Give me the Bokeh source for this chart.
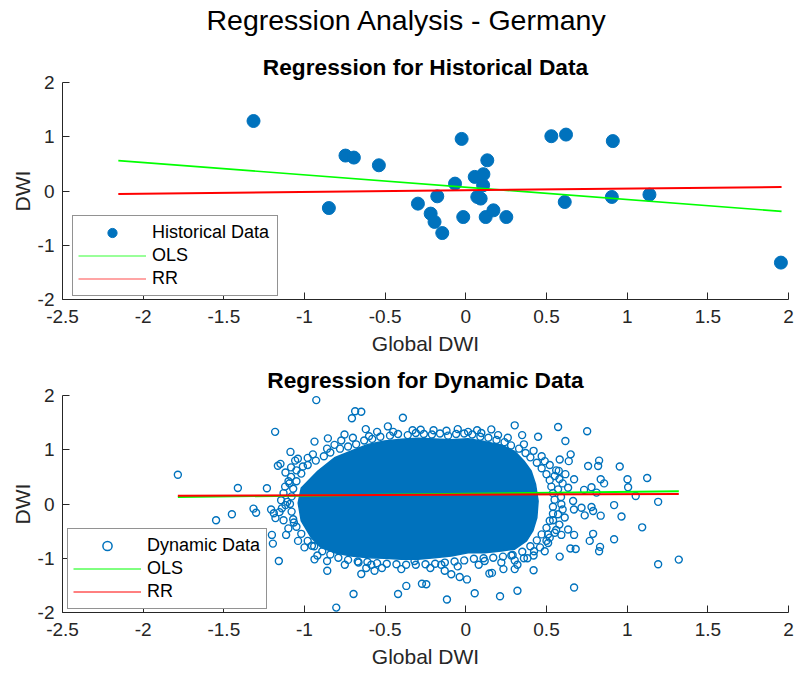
from bokeh.plotting import figure
from bokeh.models import Range1d, FixedTicker, Legend, LegendItem
from bokeh.layouts import column
from bokeh.embed import file_html
from bokeh.resources import INLINE

FONT = "Liberation Sans"
BLUE = "#0072BD"
AX = "#262626"

main_title = "Regression Analysis - Germany"
top_title = "Regression for Historical Data"
bottom_title = "Regression for Dynamic Data"

x_ticks = [-2.5, -2, -1.5, -1, -0.5, 0, 0.5, 1, 1.5, 2]
x_tick_labels = ["-2.5", "-2", "-1.5", "-1", "-0.5", "0", "0.5", "1", "1.5", "2"]
y_ticks = [-2, -1, 0, 1, 2]
y_tick_labels = ["-2", "-1", "0", "1", "2"]

# ---- historical data ----
hist_x = [-1.316, -0.746, -0.694, -0.539, -0.849, -0.026, 0.530, 0.621, 0.911, 0.133,
          0.055, 0.109, -0.067, 0.107, 0.071, 0.092, -0.177, -0.297, -0.218, -0.194,
          -0.146, -0.016, 0.123, 0.171, 0.251, 0.613, 0.905, 1.138, 1.953]
hist_y = [1.29, 0.653, 0.616, 0.474, -0.314, 0.96, 1.01, 1.04, 0.92, 0.566,
          0.26, 0.31, 0.136, 0.105, -0.11, -0.14, -0.098, -0.233, -0.417, -0.57,
          -0.775, -0.48, -0.48, -0.356, -0.48, -0.203, -0.11, -0.067, -1.32]
hist_line_x = [-2.154, 1.957]
hist_ols_y = [0.56, -0.375]
hist_rr_y = [-0.055, 0.074]

# ---- dynamic data (individually visible circles) ----
dyn_x = [
    -1.785, -0.927, -0.686, -0.648, -0.706, -0.483, -0.39, -1.182, -0.752, -0.855,
    -0.814, -0.772, -1.087, -0.938, -1.058, -0.948, -1.165, -1.149, -1.118, -1.413,
    -1.233, -1.099, -1.548, -1.45, -1.316, -1.30, -1.207, -1.19, -1.18, -1.118,
    -1.202, -1.196, -1.159, -1.114, -1.066, -0.938, -0.954, -0.859, -0.696, -0.803,
    -0.42, -0.617, -0.586, -0.665, -1.041, -1.083, -1.01, -1.083, -1.093, -1.145,
    -1.107, -1.155, -0.33, -0.55, -0.62, -0.60, -0.70, -0.648, -0.566,
    0.303, 0.572, 0.752, 0.158, 0.349, 0.448, 0.617, 0.65, 0.582, 0.638,
    0.826, 0.758, 0.82, 0.954, 0.576, 0.617, 0.671, 0.836, 0.857, 1.002,
    1.124, 1.006, 1.053, 1.192, 0.919, 0.965, 0.836, 1.093, 0.919, 0.671,
    0.592, 0.648, 0.681, 0.832, 0.826, 0.582, 1.192, 1.32, 0.671, 0.32,
    0.212, 0.055, -0.117, -0.272, -0.245, -0.369, -0.09, -0.038, 0.007, 0.146,
    0.162, 0.233, 0.303, 0.32, 0.382, 0.42, 0.423, 0.489, 0.50, 0.51,
    -0.152, -0.131, -0.318, 0.117, 0.282, 0.303,
    0.733, 0.779, 0.81, 0.737, 0.789, 0.779, 0.717, 0.789, 0.768,
    0.489, 0.551, 0.572, 0.592, 0.613, 0.572, 0.541, 0.634, 0.665, 0.67,
    0.634, 0.551, 0.51, 0.014, 0.096, -0.2, -0.05,
    -0.98, -0.93, -0.88, -0.84, -0.78, -0.73, -0.68, -0.63, -0.58, -0.53,
    -0.47, -0.42, -0.36, -0.31, -0.26, -0.21, -0.16, -0.11, -0.06, -0.01,
    0.04, 0.09, 0.14, 0.19, 0.24, 0.28, 0.33, 0.37, 0.40, 0.44,
    0.47, 0.50, 0.52, 0.53, 0.54, 0.55, 0.54, 0.54, 0.52, 0.50,
    0.47, 0.44, 0.40, 0.35, 0.29, 0.23, 0.17, 0.11, 0.05, -0.01,
    -0.07, -0.13, -0.19, -0.25, -0.31, -0.37, -0.43, -0.49, -0.55, -0.61,
    -0.67, -0.73, -0.79, -0.84, -0.89, -0.94, -0.98, -1.02, -1.05, -1.07,
    -1.08, -1.09, -1.08, -1.07, -1.05, -1.02,
    -0.45, -0.28, -0.12, 0.07, 0.20, 0.26, 0.36, 0.42, 0.47, 0.52,
    0.56, 0.58, 0.60, 0.59, 0.60, 0.58, 0.56, 0.52, 0.46, 0.42,
    0.36, 0.22, 0.08, -0.05, -0.22, -0.40, -0.52, -0.75, -0.86, -0.92,
    -1.00, -1.04, -1.10, -1.13, -1.14, -1.13, -1.12, -1.05, -0.98, -0.86,
]
dyn_y = [
    0.54, 1.915, 1.71, 1.70, 1.58, 1.43, 1.59, 1.33, 1.28, 1.21,
    1.09, 1.17, 0.96, 1.15, 0.80, 0.915, 0.705, 0.74, 0.58, 0.295,
    0.29, 0.42, -0.30, -0.19, -0.086, -0.16, -0.10, -0.17, -0.26, -0.02,
    -0.57, -0.73, -1.05, -0.57, -0.34, -1.02, -0.77, -1.23, -1.66, -1.91,
    -1.66, -1.18, -1.12, -1.08, 0.835, 0.675, 0.69, 0.50, 0.38, 0.07,
    0.04, -0.15, 1.36, 1.33, 1.38, 1.25, 1.22, -1.29, -1.23,
    1.45, 1.42, 1.34, 1.375, 1.27, 1.24, 1.16, 0.915, 0.82, 0.79,
    0.80, 0.70, 0.70, 0.69, 0.61, 0.55, 0.455, 0.455, 0.38, 0.455,
    0.48, 0.31, 0.147, 0.04, -0.02, -0.23, -0.215, -0.43, -0.65, -0.57,
    -0.57, -0.82, -0.83, -0.79, -0.87, -0.97, -1.11, -1.025, -1.54, -1.60,
    -1.70, -1.645, -1.76, -1.47, -1.48, -1.51, -1.295, -1.345, -1.39, -1.28,
    -1.27, -1.20, -1.20, -1.12, -1.00, -1.22, -0.87, -0.87, -0.68, -0.56,
    -1.12, -1.23, -1.05, -1.05, -0.95, -1.04,
    0.26, 0.31, 0.21, -0.21, -0.13, -0.055, -0.07, -0.55, -0.68,
    0.79, 0.515, 0.27, -0.006, -0.25, -0.19, -0.30, 0.30, 0.055, -0.10,
    -0.47, -0.53, -0.72, 1.33, 1.31, 1.36, 1.38,
    0.72, 0.80, 0.88, 0.95, 1.02, 1.06, 1.10, 1.17, 1.20, 1.24,
    1.26, 1.29, 1.27, 1.31, 1.29, 1.28, 1.30, 1.26, 1.29, 1.30,
    1.28, 1.24, 1.22, 1.18, 1.14, 1.08, 1.02, 0.94, 0.86, 0.76,
    0.66, 0.55, 0.44, 0.32, 0.20, 0.08, -0.05, -0.18, -0.31, -0.44,
    -0.56, -0.67, -0.78, -0.88, -0.94, -0.97, -0.99, -1.00, -1.01, -1.04,
    -1.06, -1.08, -1.10, -1.11, -1.12, -1.12, -1.11, -1.10, -1.09, -1.07,
    -1.06, -1.03, -0.99, -0.93, -0.87, -0.78, -0.68, -0.55, -0.42, -0.28,
    -0.14, 0.00, 0.14, 0.28, 0.42, 0.56,
    1.33, 1.37, 1.35, 1.36, 1.27, 1.22, 1.10, 0.98, 0.88, 0.72,
    0.62, 0.46, 0.38, 0.13, -0.10, -0.38, -0.48, -0.62, -0.80, -0.95,
    -1.00, -1.08, -1.12, -1.15, -1.18, -1.20, -1.18, -1.12, -1.05, -0.95,
    -0.80, -0.68, -0.45, -0.30, -0.08, 0.20, 0.32, 0.62, 0.85, 1.02,
]
# outline of the saturated core of the dynamic cloud (overlapping circles)
dyn_core_x = [-1.039, -1.020, -0.917, -0.814, -0.710, -0.607, -0.504, -0.400, -0.297, -0.194,
              -0.090, 0.014, 0.117, 0.220, 0.303, 0.360, 0.405, 0.432, 0.448, 0.440,
              0.415, 0.376, 0.303, 0.220, 0.117, 0.014, -0.090, -0.194, -0.297, -0.400,
              -0.504, -0.607, -0.710, -0.814, -0.896, -0.958, -1.020]
dyn_core_y = [0.018, 0.295, 0.608, 0.853, 0.976, 1.099, 1.160, 1.192, 1.210, 1.200,
              1.185, 1.205, 1.150, 1.090, 0.970, 0.792, 0.608, 0.363, 0.055, -0.252,
              -0.497, -0.681, -0.834, -0.866, -0.897, -0.897, -0.958, -0.989, -1.018, -1.018,
              -1.000, -0.989, -0.958, -0.897, -0.805, -0.621, -0.313]
dyn_line_x = [-1.785, 1.32]
dyn_ols_y = [0.129, 0.234]
dyn_rr_y = [0.153, 0.184]


def make_fig(height, border_top, border_bottom, title):
    p = figure(width=794, height=height, x_range=Range1d(-2.5, 2), y_range=Range1d(-2, 2),
               output_backend="svg", toolbar_location=None,
               min_border_left=62, min_border_right=6,
               min_border_top=border_top, min_border_bottom=border_bottom)
    p.title.text = title
    p.title.text_font = FONT
    p.title.text_font_size = "22.7px"
    p.title.text_font_style = "bold"
    p.title.text_color = "#000000"
    p.title.align = "center"
    p.title.standoff = 6
    p.outline_line_color = None
    p.xgrid.visible = False
    p.ygrid.visible = False
    for ax, ticks, labels in ((p.xaxis[0], x_ticks, x_tick_labels),
                              (p.yaxis[0], y_ticks, y_tick_labels)):
        ax.ticker = FixedTicker(ticks=ticks)
        ax.major_label_overrides = {t: l for t, l in zip(ticks, labels)}
        ax.minor_tick_line_color = None
        ax.major_tick_in = 7
        ax.major_tick_out = 0
        ax.axis_line_color = AX
        ax.major_tick_line_color = AX
        ax.major_label_text_color = AX
        ax.major_label_text_font = FONT
        ax.major_label_text_font_size = "19px"
        ax.axis_label_text_font = FONT
        ax.axis_label_text_font_size = "21px"
        ax.axis_label_text_font_style = "normal"
        ax.axis_label_text_color = AX
    p.xaxis.axis_label = "Global DWI"
    p.yaxis.axis_label = "DWI"
    p.xaxis.major_label_standoff = 10
    p.yaxis.major_label_standoff = 8
    p.xaxis.axis_label_standoff = 6
    p.yaxis.axis_label_standoff = 1
    return p


def style_legend(legend, loc, label_width):
    legend.location = loc
    legend.margin = 0
    legend.padding = 5
    legend.spacing = 0
    legend.glyph_width = 68
    legend.glyph_height = 23
    legend.label_height = 23
    legend.label_width = label_width
    legend.label_standoff = 6
    legend.label_text_font = FONT
    legend.label_text_font_size = "18px"
    legend.label_text_color = "#000000"
    legend.border_line_color = AX
    legend.border_line_width = 1
    legend.background_fill_color = "white"
    legend.background_fill_alpha = 1


# ---- overall title (an empty header plot carrying only the title) ----
p0 = figure(width=794, height=44, output_backend="svg", toolbar_location=None,
            min_border_left=62, min_border_right=6, min_border_top=0, min_border_bottom=0)
p0.title.text = main_title
p0.title.text_font = FONT
p0.title.text_font_size = "28.5px"
p0.title.text_font_style = "normal"
p0.title.text_color = "#000000"
p0.title.align = "left"
p0.title.offset = 144
p0.title.standoff = 2
p0.xaxis.visible = False
p0.yaxis.visible = False
p0.xgrid.visible = False
p0.ygrid.visible = False
p0.outline_line_color = None

# ---- top panel ----
p1 = make_fig(317, 38, 62, top_title)
r_h = p1.scatter(hist_x, hist_y, size=13, marker="circle", fill_color=BLUE, line_color=BLUE)
r_ols1 = p1.line(hist_line_x, hist_ols_y, line_color="#00FF00", line_width=1.6)
r_rr1 = p1.line(hist_line_x, hist_rr_y, line_color="#FF0000", line_width=2)
lg_ols1 = p1.line(hist_line_x, hist_ols_y, line_color="#00FF00", line_width=1.2, alpha=0.8, visible=False)
lg_rr1 = p1.line(hist_line_x, hist_rr_y, line_color="#FF0000", line_width=1.2, alpha=0.7, visible=False)
leg1 = Legend(items=[LegendItem(label="Historical Data", renderers=[r_h]),
                     LegendItem(label="OLS", renderers=[lg_ols1]),
                     LegendItem(label="RR", renderers=[lg_rr1])])
style_legend(leg1, (10, 3), 120)
p1.add_layout(leg1, "center")

# ---- bottom panel ----
p2 = make_fig(313, 33, 62, bottom_title)
p2.patch(dyn_core_x, dyn_core_y, fill_color=BLUE, line_color=BLUE, line_width=1.5)
r_d = p2.scatter(dyn_x, dyn_y, size=7, marker="circle", fill_color=None, line_color=BLUE, line_width=1.4)
r_ols2 = p2.line(dyn_line_x, dyn_ols_y, line_color="#00FF00", line_width=2)
r_rr2 = p2.line(dyn_line_x, dyn_rr_y, line_color="#FF0000", line_width=2)
lg_d = p2.scatter(dyn_x, dyn_y, size=12, marker="circle", fill_color=None, line_color=BLUE,
                  line_width=1.5, visible=False)
lg_ols2 = p2.line(dyn_line_x, dyn_ols_y, line_color="#00FF00", line_width=1, visible=False)
lg_rr2 = p2.line(dyn_line_x, dyn_rr_y, line_color="#FF0000", line_width=1, visible=False)
leg2 = Legend(items=[LegendItem(label="Dynamic Data", renderers=[lg_d]),
                     LegendItem(label="OLS", renderers=[lg_ols2]),
                     LegendItem(label="RR", renderers=[lg_rr2])])
style_legend(leg2, (5, 3), 114)
p2.add_layout(leg2, "center")

layout = column(p0, p1, p2, spacing=0)
open("out.html", "w").write(file_html(layout, INLINE))
